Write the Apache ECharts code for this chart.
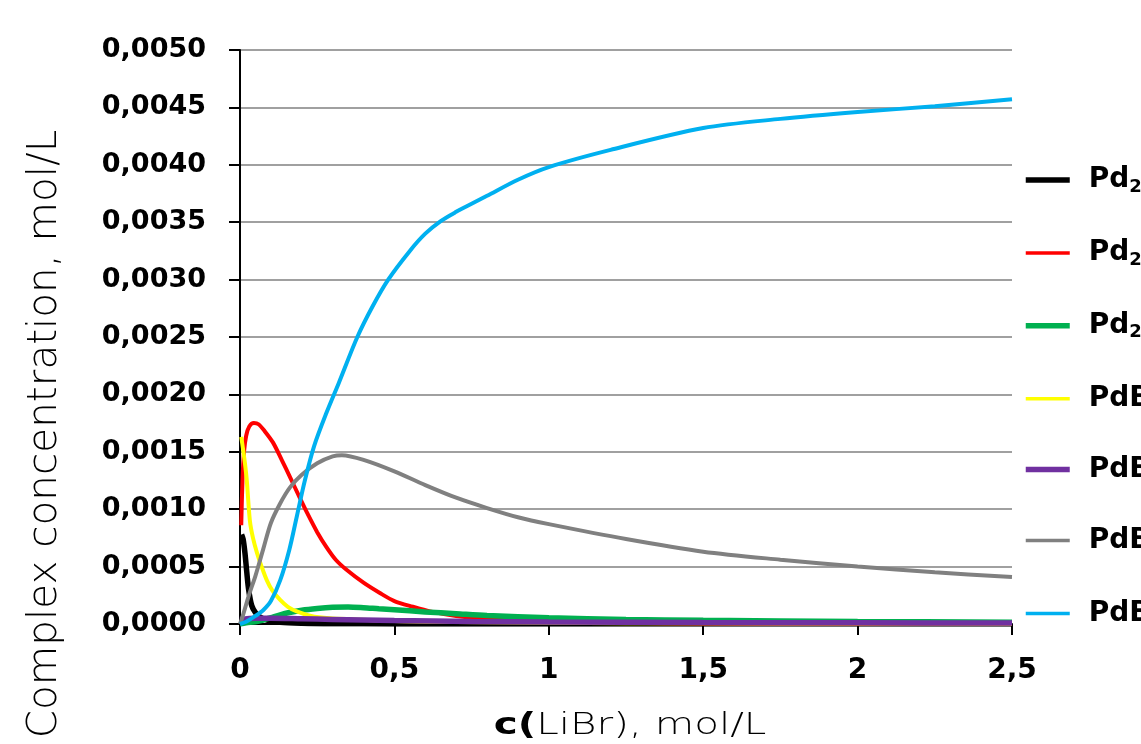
<!DOCTYPE html>
<html>
<head>
<meta charset="utf-8">
<script src="https://cdn.jsdelivr.net/npm/echarts@6/dist/echarts.min.js"></script>
<style>
html,body{margin:0;padding:0;background:#fff;}
#chart{width:1141px;height:744px;}
</style>
</head>
<body>
<div id="chart"></div>
<script>
// ---- data (x: c(LiBr), mol/L ; y: mol/L) ----
const xTicks = [0, 0.5, 1, 1.5, 2, 2.5];
const yTicks = [0, 0.0005, 0.001, 0.0015, 0.002, 0.0025, 0.003, 0.0035, 0.004, 0.0045, 0.005];

const seriesNames = ['Pd2Br4', 'Pd2Br5-', 'Pd2Br6 2-', 'PdBr2', 'PdBr+', 'PdBr3-', 'PdBr4 2-'];
const seriesLabels = [
  '{b|Pd}{s|2}{b|Br}{s|4}',
  '{b|Pd}{s|2}{b|Br}{s|5}{b|⁻}',
  '{b|Pd}{s|2}{b|Br}{s|6}{b|²⁻}',
  '{b|PdBr}{s|2}',
  '{b|PdBr⁺}',
  '{b|PdBr}{s|3}{b|⁻}',
  '{b|PdBr}{s|4}{b|²⁻}'
];
const seriesColors = ['#000000', '#ff0000', '#00b050', '#ffff00', '#7030a0', '#808080', '#00b0f0'];

const pd2br4 = [[0.005,0.00078],[0.01,0.00074],[0.016,0.00062],[0.022,0.00045],[0.028,0.0003],[0.038,0.00016],[0.05,0.0001],[0.065,0.00006],[0.087,0.000035],[0.13,0.000015],[0.2,0.000006],[0.3,0.000002],[0.5,0.000001],[1,0.0000003],[2.5,0]];
const pd2br5 = [[0.004,0.00086],[0.008,0.00125],[0.013,0.0015],[0.02,0.00164],[0.03,0.00172],[0.045,0.00175],[0.06,0.00174],[0.08,0.00168],[0.107,0.00158],[0.135,0.00143],[0.162,0.00128],[0.19,0.00112],[0.217,0.00097],[0.25,0.0008],[0.28,0.00067],[0.31,0.00056],[0.346,0.00047],[0.4,0.00036],[0.453,0.00027],[0.5,0.0002],[0.56,0.00015],[0.615,0.00011],[0.7,0.00007],[0.8,0.000045],[1,0.00002],[1.25,0.00001],[1.5,0.000005],[2,0.000002],[2.5,0.000001]];
const pd2br6 = [[0,0],[0.02,0.00001],[0.05,0.00002],[0.075,0.000035],[0.1,0.000055],[0.13,0.00008],[0.16,0.0001],[0.2,0.00012],[0.25,0.000135],[0.3,0.000145],[0.35,0.000148],[0.4,0.000142],[0.45,0.000133],[0.5,0.000125],[0.6,0.000105],[0.7,0.00009],[0.8,0.000075],[1,0.000055],[1.25,0.00004],[1.5,0.000032],[2,0.000022],[2.5,0.000016]];
const pdbr2 = [[0.004,0.00163],[0.01,0.00152],[0.016,0.0014],[0.022,0.00125],[0.032,0.0009],[0.042,0.00075],[0.055,0.00062],[0.07,0.0005],[0.087,0.00038],[0.105,0.00029],[0.13,0.00021],[0.155,0.00015],[0.184,0.00011],[0.23,0.00007],[0.29,0.00005],[0.37,0.00004],[0.45,0.00003],[0.6,0.00002],[0.8,0.000015],[1,0.00001],[1.5,0.000006],[2,0.000004],[2.5,0.000003]];
const pdbr1 = [[0,0.00004],[0.05,0.00005],[0.1,0.00005],[0.2,0.000045],[0.3,0.00004],[0.5,0.00003],[0.75,0.000022],[1,0.000018],[1.5,0.000013],[2,0.00001],[2.5,0.000008]];
const pdbr3 = [[0,0],[0.01,0.00008],[0.03,0.00026],[0.05,0.00042],[0.075,0.00065],[0.1,0.00088],[0.13,0.00105],[0.162,0.00119],[0.2,0.0013],[0.25,0.0014],[0.3,0.00146],[0.33,0.00147],[0.4,0.00143],[0.5,0.00133],[0.6,0.00121],[0.7,0.0011],[0.8,0.00101],[0.9,0.00093],[1,0.00087],[1.25,0.00074],[1.5,0.00063],[1.75,0.00056],[2,0.0005],[2.25,0.00045],[2.5,0.00041]];
const pdbr4 = [[0,0],[0.02,0.00002],[0.05,0.00007],[0.075,0.00012],[0.1,0.0002],[0.13,0.00038],[0.16,0.00065],[0.185,0.00095],[0.21,0.00125],[0.24,0.00155],[0.28,0.00184],[0.32,0.0021],[0.38,0.0025],[0.43,0.00277],[0.48,0.003],[0.55,0.00325],[0.6,0.0034],[0.65,0.00351],[0.7,0.00359],[0.75,0.00366],[0.8,0.00373],[0.9,0.00387],[1,0.00398],[1.2,0.00413],[1.5,0.00432],[1.75,0.0044],[2,0.00446],[2.25,0.00451],[2.5,0.00457]];

const seriesData = [pd2br4, pd2br5, pd2br6, pdbr2, pdbr1, pdbr3, pdbr4];
const lineWidths = [5.5, 4, 5.5, 4, 5.5, 4, 4];
const legendWidths = [5.5, 3.5, 5.5, 3.5, 5.5, 3.5, 3.5];

const chart = echarts.init(document.getElementById('chart'), null, {renderer: 'canvas'});
const FONT = '"DejaVu Sans", sans-serif';

const option = {
  backgroundColor: '#ffffff',
  animation: false,
  grid: {left: 240, right: 129, top: 50, bottom: 120, outerBoundsMode: 'none', containLabel: false},
  xAxis: {
    type: 'value', min: xTicks[0], max: xTicks[xTicks.length - 1], interval: 0.5,
    axisLine: {show: true, onZero: false, lineStyle: {color: '#000', width: 2}},
    axisTick: {show: true, length: 11, lineStyle: {color: '#000', width: 2}},
    splitLine: {show: false},
    axisLabel: {
      margin: 33, color: '#000', fontFamily: FONT, fontWeight: 'bold', fontSize: 28,
      formatter: v => String(v).replace('.', ',')
    }
  },
  yAxis: {
    type: 'value', min: yTicks[0], max: yTicks[yTicks.length - 1], interval: 0.0005,
    axisLine: {show: true, lineStyle: {color: '#000', width: 2}},
    axisTick: {show: true, length: 11, lineStyle: {color: '#000', width: 2}},
    splitLine: {show: true, lineStyle: {color: '#a0a0a0', width: 2}},
    axisLabel: {
      margin: 34, color: '#000', fontFamily: FONT, fontWeight: 'bold', fontSize: 27,
      formatter: v => v.toFixed(4).replace('.', ',')
    }
  },
  legend: {
    orient: 'vertical', left: 1023, top: 164, padding: 0,
    itemWidth: 44, itemHeight: 14, itemGap: 40.9,
    itemStyle: {opacity: 0},
    data: seriesNames.map((n, i) => ({name: n, lineStyle: {width: legendWidths[i], color: seriesColors[i]}})),
    formatter: name => seriesLabels[seriesNames.indexOf(name)],
    textStyle: {
      padding: [0, 0, 0, 14],
      rich: {
        b: {fontFamily: FONT, fontWeight: 'bold', fontSize: 28, color: '#000', lineHeight: 34},
        s: {fontFamily: FONT, fontWeight: 'bold', fontSize: 18, color: '#000', lineHeight: 34, padding: [14, 0, 0, 0]}
      }
    }
  },
  graphic: [
    {
      type: 'text', x: 45, y: 434, rotation: Math.PI / 2,
      style: {text: 'Complex concentration, mol/L', fontFamily: FONT, fontWeight: 200, fontSize: 40.5,
        fill: '#000', align: 'center', verticalAlign: 'middle'}
    },
    {
      type: 'text', x: 630, y: 726, scaleX: 1.35,
      style: {
        text: '{b|c(}{n|LiBr), mol/L}', align: 'center', verticalAlign: 'middle',
        rich: {
          b: {fontFamily: FONT, fontWeight: 'bold', fontSize: 30, fill: '#000', color: '#000'},
          n: {fontFamily: FONT, fontWeight: 200, fontSize: 30, fill: '#000', color: '#000'}
        }
      }
    }
  ],
  series: seriesNames.map((name, i) => ({
    name: name,
    type: 'line',
    data: seriesData[i],
    smooth: 0.3,
    showSymbol: false,
    symbol: 'circle',
    symbolSize: 0,
    clip: true,
    lineStyle: {color: seriesColors[i], width: lineWidths[i]},
    itemStyle: {color: seriesColors[i]},
    emphasis: {disabled: true}
  }))
};
chart.setOption(option);
</script>
</body>
</html>
